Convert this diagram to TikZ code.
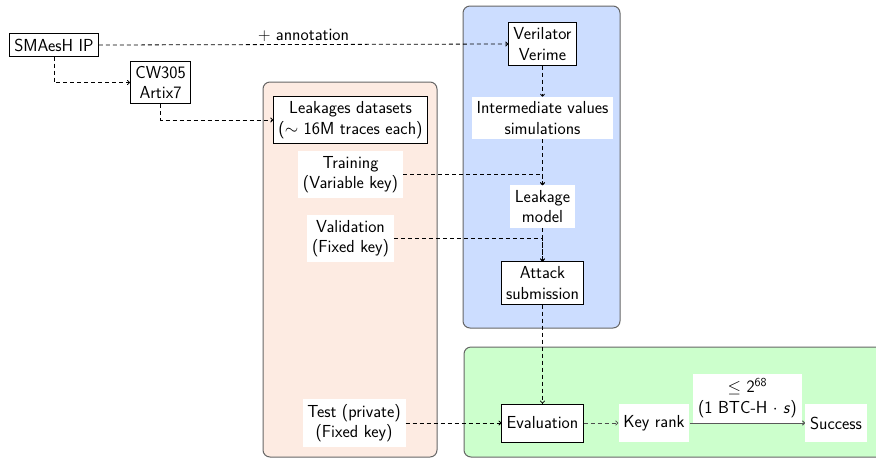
\documentclass[tikz,border=0pt]{standalone}
\usepackage{fontspec}
\usetikzlibrary{arrows.meta}
\definecolor{pinkfill}{RGB}{253,235,226}
\definecolor{bluefill}{RGB}{204,221,255}
\definecolor{greenfill}{RGB}{204,255,204}
\begin{document}
\begin{tikzpicture}[x=1pt,y=-1pt,
  every node/.style={font=\sffamily\fontsize{17.4}{20.5}\selectfont, align=center, inner sep=4.8pt},
  boxnode/.style={draw=black, line width=0.9pt, fill=white},
  plainnode/.style={fill=white},
  rowbox/.style={minimum height=38pt},
  conn/.style={line width=0.8pt, dash pattern=on 4pt off 3pt, -{To[length=3pt,width=5pt]}},
  solidconn/.style={line width=1pt, draw=black!65, -{To[length=3pt,width=5pt]}},
  panel/.style={rounded corners=7pt, line width=1pt, draw=black!60}]
\path[use as bounding box, clip] (0,0) rectangle (876,459);

% panels
\draw[panel, fill=pinkfill] (263,82) rectangle (437,457);
\draw[panel, fill=bluefill] (463,6) rectangle (620,328);
\draw[panel, fill=greenfill] (464,347) rectangle (900,457);

% nodes
\node[boxnode] (smaesh) at (54,45) {SMAesH IP};
\node[boxnode] (cw) at (160.5,82.5) {CW305\\Artix7};
\node[boxnode] (leak) at (350.5,120) {Leakages datasets\\($\sim$ 16M traces each)};
\node[plainnode] (train) at (350.5,174.5) {Training\\(Variable key)};
\node[plainnode] (valid) at (350.5,238.5) {Validation\\(Fixed key)};
\node[plainnode] (test) at (354,423) {Test (private)\\(Fixed key)};
\node[boxnode] (veri) at (542.5,44) {Verilator\\Verime};
\node[plainnode] (inter) at (542.5,118) {Intermediate values\\simulations};
\node[plainnode] (lmodel) at (542.5,206.5) {Leakage\\model};
\node[boxnode] (attack) at (542.5,283) {Attack\\submission};
\node[boxnode, rowbox] (eval) at (542.5,423) {Evaluation};
\node[plainnode, rowbox] (keyrank) at (654,423) {Key rank};
\node[plainnode, rowbox] (success) at (836,423) {Success};

% connectors
\draw[conn] (smaesh.east) -- node[above, inner sep=3pt] {$+$ annotation} (veri.west);
\draw[conn] (smaesh.south) |- (cw.west);
\draw[conn] (cw.south) |- (leak.west);
\draw[conn] (veri.south) -- (inter.north);
\draw[conn] (inter.south) -- (lmodel.north);
\draw[conn] (train.east) -| (lmodel.north);
\draw[conn] (lmodel.south) -- (attack.north);
\draw[conn] (valid.east) -| (attack.north);
\draw[conn] (attack.south) -- (eval.north);
\draw[conn] (test.east) -- (eval.west);
\draw[conn, draw=black!70] (eval.east) -- (keyrank.west);
\draw[solidconn] (keyrank.east) -- node[plainnode, above, inner sep=4.8pt] {$\leq$ 2\textsuperscript{68}\\(1 BTC-H $\cdot$ \textsl{s})} (success.west);
\end{tikzpicture}
\end{document}
